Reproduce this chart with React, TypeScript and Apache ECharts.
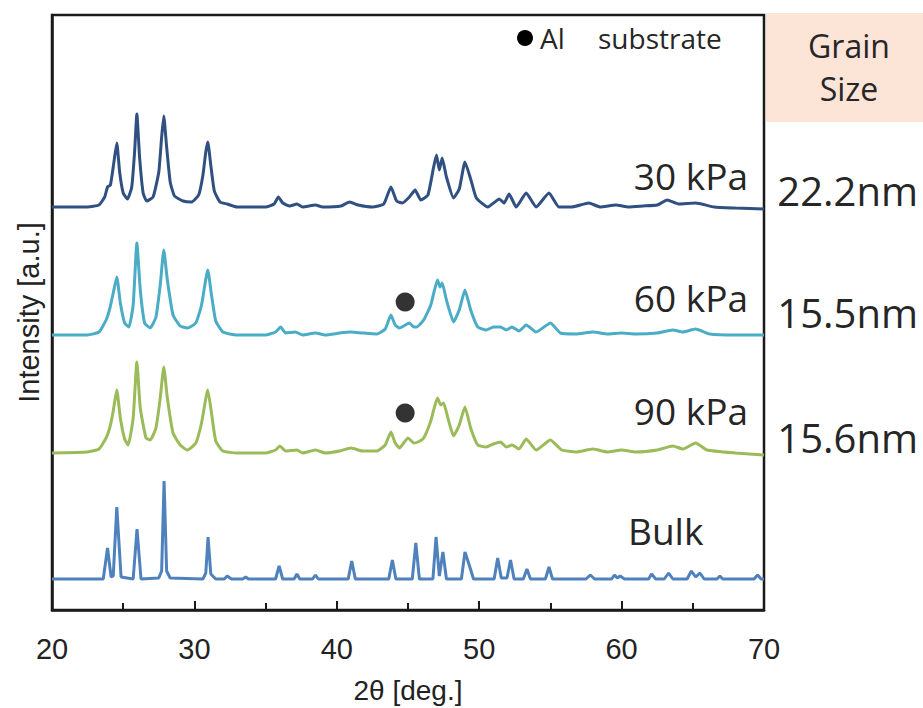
import React, { useEffect, useRef } from "react";
import * as echarts from "echarts";

// 2θ range and ticks
const xMin = 20;
const xMax = 70;
const xInterval = 10;

// vertical offsets (a.u.) of each stacked pattern
const offsetBulk = 31;
const offset90 = 157;
const offset60 = 275;
const offset30 = 403;

// [2θ, intensity above baseline]
const bulk: number[][] = [
  [20, 0], [23.6, 0], [23.9, 31], [24.15, 2], [24.3, 3], [24.55, 72], [24.85, 2], [25.7, 0], [25.97, 50], [26.25, 0],
  [27.5, 1], [27.7, 8], [27.87, 98], [28.05, 8], [28.3, 1], [30.6, 0], [30.8, 6], [30.96, 42], [31.15, 5], [31.5, 0],
  [32.1, 0], [32.3, 3], [32.6, 0], [33.4, 0], [33.6, 2], [33.8, 0], [35.7, 0], [35.95, 13], [36.2, 0], [37.0, 0],
  [37.2, 5], [37.4, 0], [38.3, 0], [38.5, 4], [38.7, 0], [40.8, 0], [41.05, 18], [41.3, 0], [43.65, 0], [43.9, 19],
  [44.15, 0], [45.3, 0], [45.55, 36], [45.8, 0], [46.75, 0], [46.97, 42], [47.2, 3], [47.45, 27], [47.7, 0], [48.75, 0],
  [49.0, 27], [49.3, 14], [49.6, 0], [51.05, 0], [51.3, 21], [51.55, 1], [51.95, 1], [52.2, 19], [52.45, 0], [53.1, 0],
  [53.35, 10], [53.6, 0], [54.65, 0], [54.9, 12], [55.15, 0], [57.5, 0], [57.8, 4], [58.1, 0], [59.3, 0], [59.5, 4],
  [59.7, 1], [59.9, 3], [60.2, 0], [61.9, 0], [62.1, 5], [62.4, 0], [63.0, 0], [63.3, 6], [63.6, 0], [64.6, 0],
  [64.9, 8], [65.2, 2], [65.5, 6], [65.8, 0], [66.7, 0], [66.9, 3], [67.1, 0], [69.3, 0], [69.55, 4], [69.8, 0], [70, 0],
];

const kPa90: number[][] = [
  [20, 0], [22.5, 1], [23.3, 4], [23.8, 15], [24.07, 26], [24.3, 42], [24.55, 63], [24.8, 35], [25.1, 14], [25.35, 8],
  [25.7, 35], [25.96, 91], [26.2, 45], [26.6, 15], [26.9, 13], [27.3, 25], [27.6, 55], [27.85, 86], [28.1, 55], [28.5, 20],
  [29, 8], [29.5, 3], [30.1, 10], [30.5, 30], [30.94, 63], [31.2, 40], [31.5, 12], [32, 2], [33, 0], [35, 0],
  [35.7, 3], [36.0, 7], [36.4, 2], [37.2, 3], [37.6, 0], [38.5, 3], [39.2, 0], [40.2, 2], [41, 5], [41.8, 2],
  [42.8, 2], [43.4, 8], [43.8, 21], [44.1, 10], [44.4, 5], [45.0, 15], [45.4, 10], [45.7, 11], [46.1, 15], [46.6, 32],
  [47.07, 55], [47.3, 48], [47.5, 50], [47.8, 35], [48.2, 17], [48.6, 28], [49.0, 46], [49.4, 25], [49.9, 8], [50.5, 6],
  [51.0, 9], [51.5, 11], [51.9, 6], [52.3, 8], [52.8, 4], [53.3, 14], [54.0, 3], [55.0, 13], [55.8, 3], [56.8, 1],
  [58, 4], [59, 1], [60, 3], [61, 1], [62.5, 3], [63.6, 7], [64.3, 4], [65.2, 10], [66, 3], [68, 0], [70, -2],
];

const kPa60: number[][] = [
  [20, 0], [22.5, 0], [23.3, 3], [23.8, 15], [24.07, 27], [24.3, 42], [24.55, 58], [24.8, 32], [25.1, 12], [25.4, 8],
  [25.7, 30], [25.96, 92], [26.2, 45], [26.5, 12], [26.9, 7], [27.3, 18], [27.6, 50], [27.85, 85], [28.1, 55], [28.5, 20],
  [29, 9], [29.5, 7], [30.1, 12], [30.5, 30], [30.94, 65], [31.2, 40], [31.5, 14], [32, 3], [33, 0], [35, 0],
  [35.7, 3], [36.06, 8], [36.4, 2], [37.1, 3], [37.6, 0], [38.5, 2], [39.2, 0], [40.2, 2], [41, 3], [41.8, 2],
  [42.8, 1], [43.4, 6], [43.8, 20], [44.1, 10], [44.4, 7], [45.1, 12], [45.4, 8], [45.6, 8], [46.1, 15], [46.6, 30],
  [47.07, 55], [47.25, 48], [47.4, 52], [47.7, 35], [48.2, 13], [48.6, 25], [49.0, 45], [49.4, 25], [49.9, 8], [50.5, 5],
  [51.0, 8], [51.5, 8], [51.9, 5], [52.3, 8], [52.8, 4], [53.3, 10], [54.0, 3], [55.0, 12], [55.7, 2], [56.8, 1],
  [58, 3], [59, 1], [60, 2], [61, 1], [62.5, 2], [63.6, 5], [64.3, 3], [65.2, 6], [66.2, 1], [68, 0], [70, 0],
];

const kPa30: number[][] = [
  [20, 0], [22.5, 0], [23.3, 2], [23.7, 10], [23.9, 20], [24.1, 22], [24.3, 40], [24.55, 64], [24.75, 35], [25.0, 14],
  [25.3, 8], [25.6, 20], [25.8, 55], [25.96, 93], [26.15, 50], [26.4, 14], [26.65, 6], [27.1, 10], [27.5, 35], [27.7, 70],
  [27.85, 91], [28.05, 60], [28.3, 25], [28.6, 11], [29.2, 6], [29.8, 5], [30.3, 12], [30.6, 32], [30.8, 55], [30.94, 65],
  [31.15, 42], [31.4, 16], [31.8, 5], [32.3, 3], [33, 0], [35, 0], [35.6, 3], [35.9, 10], [36.2, 4], [36.7, 1],
  [37.2, 3], [37.6, 0], [38.5, 2], [39, 0], [40.3, 1], [40.9, 5], [41.5, 2], [42.5, 0], [43.3, 3], [43.8, 20],
  [44.2, 6], [44.6, 4], [45.1, 10], [45.5, 17], [45.9, 7], [46.4, 12], [46.8, 40], [47.0, 52], [47.2, 37], [47.4, 49],
  [47.7, 30], [48.2, 9], [48.6, 18], [49.0, 45], [49.4, 28], [49.8, 9], [50.6, 0], [51.1, 5], [51.4, 8], [51.75, 4],
  [52.1, 13], [52.6, 0], [53.3, 14], [54.0, 0], [54.9, 14], [55.6, 0], [56.5, 0], [57.7, 4], [58.5, 0], [59.6, 2],
  [60.5, 0], [61.5, 1], [62.5, 2], [63.2, 7], [64, 3], [65.2, 4], [66.5, 0], [68, -1], [70, -2],
];

// Al substrate markers [2θ, a.u.]
const alMarkers: number[][] = [
  [44.8, 308],
  [44.8, 197],
];

const seriesNames = ["30 kPa", "60 kPa", "90 kPa", "Bulk"];
const grainSizes = ["22.2nm", "15.5nm", "15.6nm"];
const colors = ["#2F5080", "#4BACC6", "#9BBB59", "#4F81BD"];

const shift = (pts: number[][], off: number) => pts.map((p) => [p[0], p[1] + off]);

export default function App() {
  const ref = useRef<HTMLDivElement>(null);
  useEffect(() => {
    if (!ref.current) return;
    const chart = echarts.init(ref.current, undefined, { renderer: "svg" });
    const labelFont = "'Open Sans', 'Noto Sans', sans-serif";
    const axisFont = "'Liberation Sans', Arial, sans-serif";
    const datasets = [shift(kPa30, offset30), shift(kPa60, offset60), shift(kPa90, offset90), shift(bulk, offsetBulk)];
    chart.setOption({
      animation: false,
      backgroundColor: "#ffffff",
      grid: {
        left: 52,
        top: 15,
        width: 712,
        height: 595,
        show: true,
        borderColor: "#1a1a1a",
        borderWidth: 2.5,
        backgroundColor: "transparent",
        outerBoundsMode: "none",
        containLabel: false,
      },
      xAxis: {
        type: "value",
        min: xMin,
        max: xMax,
        interval: xInterval,
        axisLine: { show: true, lineStyle: { color: "#1a1a1a", width: 2.5 } },
        axisTick: { show: true, inside: true, length: 9, lineStyle: { color: "#1a1a1a", width: 2 } },
        minorTick: { show: true, splitNumber: 2, length: 7, lineStyle: { color: "#1a1a1a", width: 2 } },
        splitLine: { show: false },
        axisLabel: { fontSize: 29, color: "#222", fontFamily: axisFont, margin: 24 },
        name: "2θ [deg.]",
        nameLocation: "middle",
        nameGap: 66,
        nameTextStyle: { fontSize: 28, color: "#222", fontFamily: axisFont },
      },
      yAxis: {
        type: "value",
        min: 0,
        max: 595,
        axisLine: { show: true, lineStyle: { color: "#1a1a1a", width: 2.5 } },
        axisTick: { show: false },
        axisLabel: { show: false },
        splitLine: { show: false },
        name: "Intensity [a.u.]",
        nameLocation: "middle",
        nameGap: 9,
        nameRotate: 90,
        nameTextStyle: { fontSize: 29, color: "#222", fontFamily: axisFont },
      },
      series: [
        ...datasets.map((d, i) => ({
          type: "line",
          name: seriesNames[i],
          data: d,
          showSymbol: false,
          smooth: i === 3 ? false : 0.15,
          lineStyle: { color: colors[i], width: 3 },
          z: 2,
        })),
        {
          type: "scatter",
          name: "Al substrate",
          data: alMarkers,
          symbol: "circle",
          symbolSize: 19,
          itemStyle: { color: "#000" },
          z: 3,
        },
      ],
      graphic: [
        { type: "rect", shape: { x: 766, y: 13, width: 157, height: 109 }, style: { fill: "#FCE4D6" }, z: 0 },
        { type: "text", x: 849, y: 45, style: { text: "Grain", fill: "#262626", font: `32px ${labelFont}`, textAlign: "center", textVerticalAlign: "middle" } },
        { type: "text", x: 849, y: 88, style: { text: "Size", fill: "#262626", font: `32px ${labelFont}`, textAlign: "center", textVerticalAlign: "middle" } },
        { type: "circle", shape: { cx: 525, cy: 38, r: 8 }, style: { fill: "#000" } },
        { type: "text", x: 540, y: 38, style: { text: "Al", fill: "#262626", font: `28px ${labelFont}`, textAlign: "left", textVerticalAlign: "middle" } },
        { type: "text", x: 598, y: 38, style: { text: "substrate", fill: "#262626", font: `28px ${labelFont}`, textAlign: "left", textVerticalAlign: "middle" } },
        { type: "text", x: 748, y: 175, style: { text: seriesNames[0], fill: "#262626", font: `37px ${labelFont}`, textAlign: "right", textVerticalAlign: "middle" } },
        { type: "text", x: 748, y: 297, style: { text: seriesNames[1], fill: "#262626", font: `37px ${labelFont}`, textAlign: "right", textVerticalAlign: "middle" } },
        { type: "text", x: 748, y: 410, style: { text: seriesNames[2], fill: "#262626", font: `37px ${labelFont}`, textAlign: "right", textVerticalAlign: "middle" } },
        { type: "text", x: 628, y: 530, style: { text: seriesNames[3], fill: "#262626", font: `37px ${labelFont}`, textAlign: "left", textVerticalAlign: "middle" } },
        { type: "text", x: 918, y: 190, style: { text: grainSizes[0], fill: "#262626", font: `40px ${labelFont}`, textAlign: "right", textVerticalAlign: "middle" } },
        { type: "text", x: 918, y: 312, style: { text: grainSizes[1], fill: "#262626", font: `40px ${labelFont}`, textAlign: "right", textVerticalAlign: "middle" } },
        { type: "text", x: 918, y: 437, style: { text: grainSizes[2], fill: "#262626", font: `40px ${labelFont}`, textAlign: "right", textVerticalAlign: "middle" } },
      ],
    });
    return () => chart.dispose();
  }, []);
  return <div ref={ref} style={{ position: "fixed", left: 0, top: 0, width: 923, height: 708 }} />;
}
